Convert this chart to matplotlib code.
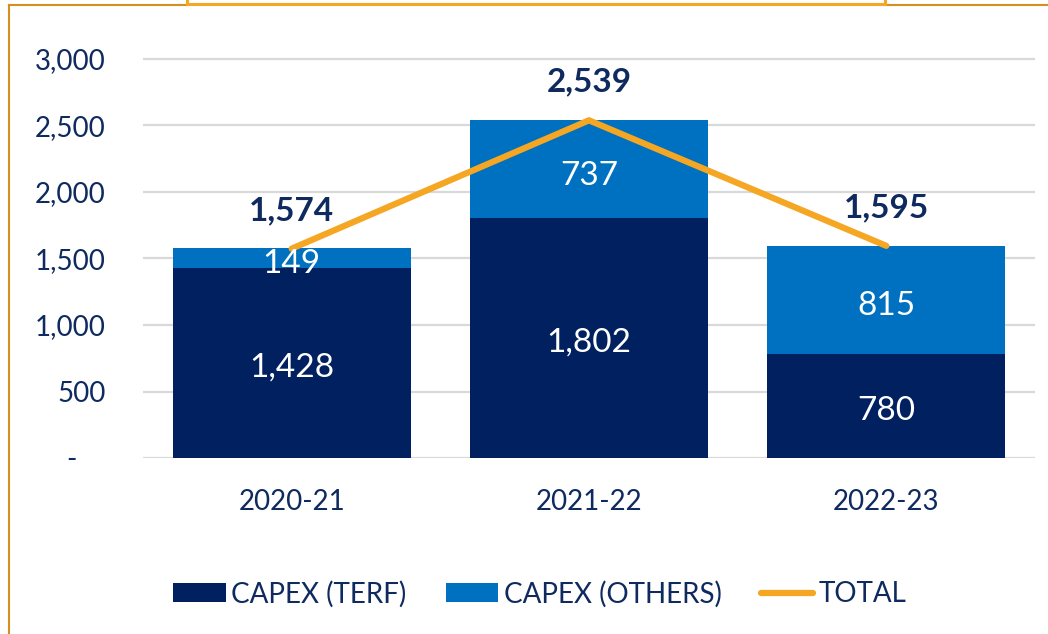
import matplotlib
matplotlib.use("Agg")
import matplotlib.pyplot as plt
from matplotlib.patches import Patch
from matplotlib.lines import Line2D
import numpy as np

categories = ["2020-21", "2021-22", "2022-23"]
capex_terf = [1428, 1802, 780]
capex_others = [149, 737, 815]
total = [1574, 2539, 1595]
yticks = [0, 500, 1000, 1500, 2000, 2500, 3000]
ytick_labels = ["-", "500", "1,000", "1,500", "2,000", "2,500", "3,000"]

NAVY = "#002060"
BLUE = "#0070C0"
ORANGE = "#F5A623"
TXT = "#0E2A5E"

plt.rcParams["font.family"] = ["Lato", "DejaVu Sans"]

W, H = 1048, 634
fig = plt.figure(figsize=(W / 100, H / 100), dpi=100)

# axes geometry (pixels)
x_left, x_right = 143, 1035
y0_px, y3000_px = 458, 59
px_per_unit = (y0_px - y3000_px) / 3000
ytop = 3100
top_px = y0_px - ytop * px_per_unit
ax = fig.add_axes([x_left / W, 1 - y0_px / H, (x_right - x_left) / W, (y0_px - top_px) / H])

x = np.arange(len(categories))
bw = 0.8
ax.bar(x, capex_terf, bw, color=NAVY, zorder=2)
ax.bar(x, capex_others, bw, bottom=capex_terf, color=BLUE, zorder=2)
ax.plot(x, total, color=ORANGE, lw=4.5, solid_capstyle="round", solid_joinstyle="miter", zorder=3)

ax.set_xlim(-0.5, 2.5)
ax.set_ylim(0, ytop)
ax.set_yticks(yticks)
ax.set_yticklabels([l if l != "-" else "-    " for l in ytick_labels])
ax.tick_params(axis="y", length=0, pad=27, labelsize=20, labelcolor=TXT)
ax.set_xticks(x)
ax.set_xticklabels(categories)
ax.tick_params(axis="x", length=0, pad=22, labelsize=20, labelcolor=TXT)
for s in ax.spines.values():
    s.set_visible(False)
ax.yaxis.grid(True, color="#D9D9D9", lw=1.6, zorder=0)
ax.set_axisbelow(True)

for i in range(len(categories)):
    ax.annotate(f"{capex_terf[i]:,}", (x[i], capex_terf[i] / 2), xytext=(0, -3.5),
                textcoords="offset points", ha="center", va="center",
                color="white", fontsize=24, zorder=4)
    ax.annotate(f"{capex_others[i]:,}", (x[i], capex_terf[i] + capex_others[i] / 2),
                xytext=(0, -4.5), textcoords="offset points", ha="center",
                va="center", color="white", fontsize=24, zorder=4)
    ax.annotate(f"{total[i]:,}", (x[i], total[i]), xytext=(0, 27.5), textcoords="offset points",
                ha="center", va="center", color=TXT, fontsize=24, fontweight="bold", zorder=5)

handles = [Patch(facecolor=NAVY, edgecolor="none"),
           Patch(facecolor=BLUE, edgecolor="none"),
           Line2D([0], [0], color=ORANGE, lw=4.5, solid_capstyle="round")]
leg = fig.legend(handles, ["CAPEX (TERF)", "CAPEX (OTHERS)", "TOTAL"], loc="center",
                 bbox_to_anchor=(540 / W, 1 - 594 / H), ncol=3, frameon=False,
                 fontsize=20, handlelength=1.9, handleheight=0.68, handletextpad=0.2,
                 columnspacing=1.4)
for t in leg.get_texts():
    t.set_color(TXT)

# orange frame (partially visible)
fig.add_artist(Line2D([8.5 / W, 8.5 / W], [0, 1 - 5 / H], color="#D4901E", lw=1.5))
fig.add_artist(Line2D([8.5 / W, 187 / W], [1 - 5 / H, 1 - 5 / H], color="#D4901E", lw=1.5))
fig.add_artist(Line2D([885 / W, 1], [1 - 5 / H, 1 - 5 / H], color="#D4901E", lw=1.5))
fig.add_artist(Line2D([187 / W, 885 / W], [1 - 4 / H, 1 - 4 / H], color=ORANGE, lw=2.2))
fig.add_artist(Line2D([187 / W, 187 / W], [1, 1 - 4 / H], color=ORANGE, lw=2.2))
fig.add_artist(Line2D([885 / W, 885 / W], [1, 1 - 4 / H], color=ORANGE, lw=2.2))

fig.savefig("out.png", dpi=100)
